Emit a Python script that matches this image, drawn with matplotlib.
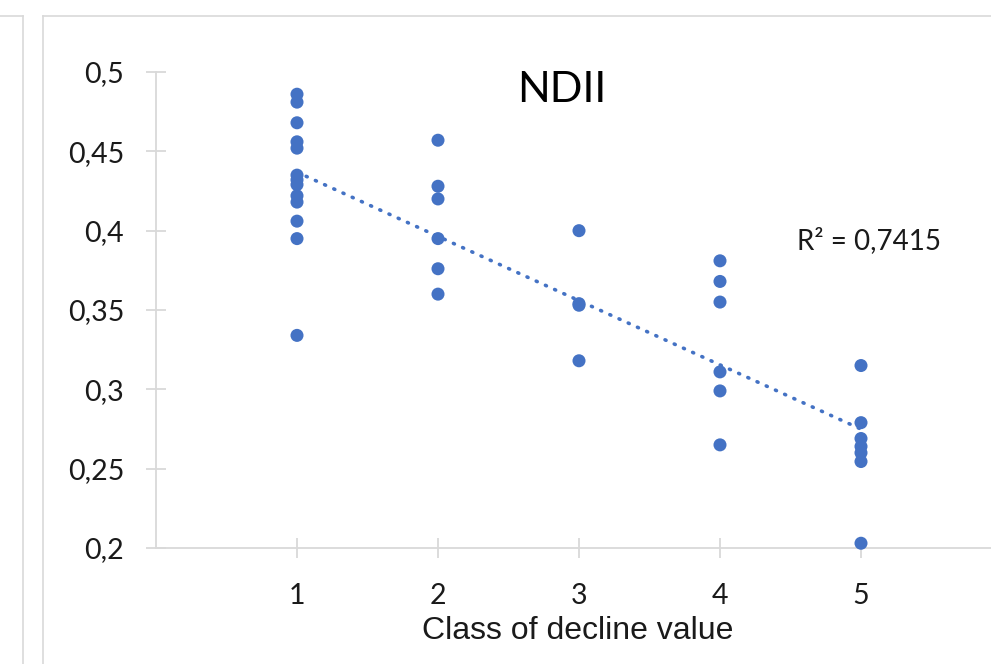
import numpy as np
import matplotlib
matplotlib.use("Agg")
import matplotlib.pyplot as plt
from matplotlib.lines import Line2D

# ---- data ----
class1 = [0.486, 0.481, 0.468, 0.456, 0.452, 0.435, 0.432, 0.429, 0.422, 0.418, 0.406, 0.395, 0.334]
class2 = [0.457, 0.428, 0.420, 0.395, 0.376, 0.360]
class3 = [0.400, 0.354, 0.353, 0.318]
class4 = [0.381, 0.368, 0.355, 0.311, 0.299, 0.265]
class5 = [0.315, 0.279, 0.269, 0.264, 0.260, 0.2545, 0.203]
classes = [1, 2, 3, 4, 5]
groups = [class1, class2, class3, class4, class5]
y_ticks = [0.2, 0.25, 0.3, 0.35, 0.4, 0.45, 0.5]
y_labels = ["0,2", "0,25", "0,3", "0,35", "0,4", "0,45", "0,5"]
x_labels = ["1", "2", "3", "4", "5"]
title = "NDII"
xlabel = "Class of decline value"
r2_text = "R² = 0,7415"

xs = np.concatenate([[c] * len(g) for c, g in zip(classes, groups)]).astype(float)
ys = np.concatenate(groups)

W, H = 991, 664
fig = plt.figure(figsize=(W / 100, H / 100), dpi=100)
blue = "#4472C4"
grey = "#d9d9d9"

# panel borders
fig.add_artist(Line2D([22.5 / W, 22.5 / W], [0, 1 - 16 / H], color=grey, lw=1.2))
fig.add_artist(Line2D([0, 22.5 / W], [1 - 16 / H, 1 - 16 / H], color=grey, lw=1.2))
fig.add_artist(Line2D([43 / W, 43 / W], [0, 1 - 16 / H], color=grey, lw=1.2))
fig.add_artist(Line2D([43 / W, 1], [1 - 16 / H, 1 - 16 / H], color=grey, lw=1.2))

ax = fig.add_axes([156 / W, (H - 548) / H, 1 - 156 / W, (548 - 72) / H])
ax.set_facecolor("none")

ax.scatter(xs, ys, s=88, color=blue, edgecolors="none", zorder=3, clip_on=False)

slope, intercept = np.polyfit(xs, ys, 1)
xt = np.array([1.0, 5.0])
ax.plot(xt, slope * xt + intercept, color=blue, lw=2.6,
        linestyle=(0, (0.3, 2.5)), dash_capstyle="round", zorder=2)

ax.set_xlim(0, 835 / 141)
ax.set_ylim(0.2, 0.5)
ax.set_xticks(classes)
ax.set_xticklabels(x_labels)
ax.set_yticks(y_ticks)
ax.set_yticklabels(y_labels)

for s in ["top", "right"]:
    ax.spines[s].set_visible(False)
for s in ["left", "bottom"]:
    ax.spines[s].set_color(grey)
    ax.spines[s].set_linewidth(1.3)

ax.tick_params(axis="both", direction="inout", length=14, width=1.3, color=grey,
               labelsize=20.5, labelcolor="#1a1a1a")
ax.tick_params(axis="x", pad=18)
ax.tick_params(axis="y", pad=16)
for lab in ax.get_xticklabels() + ax.get_yticklabels():
    lab.set_fontfamily("Lato")

ax.set_xlabel(xlabel, fontsize=23, fontfamily="Liberation Sans", color="#1a1a1a")
ax.xaxis.set_label_coords((578 - 156) / (W - 156), -(616 - 548) / (548 - 72))

fig.text(562 / W, 1 - 90 / H, title, fontsize=31, fontfamily="Lato",
         ha="center", va="center", color="#000000")
fig.text(869 / W, 1 - 241 / H, r2_text, fontsize=20, fontfamily="Lato",
         ha="center", va="center", color="#1a1a1a")

fig.savefig("out.png", dpi=100)
